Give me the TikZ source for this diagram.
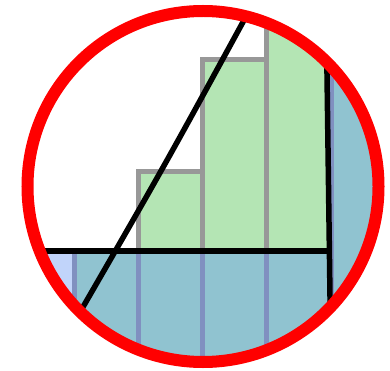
\documentclass[tikz,border=0pt]{standalone}
\definecolor{barGreen}{RGB}{180,229,180}
\definecolor{barTeal}{RGB}{144,195,208}
\definecolor{barLav}{RGB}{193,212,250}
\definecolor{edgeGray}{RGB}{152,152,152}
\definecolor{edgeBlue}{RGB}{128,144,192}
\definecolor{ringRed}{RGB}{255,0,0}
\tikzset{
  upperbar/.style={fill=barGreen, draw=edgeGray, line width=5pt},
  lowerbar/.style={fill=barTeal, draw=edgeBlue, line width=5pt},
  lowerbarlight/.style={fill=barLav, draw=edgeBlue, line width=5pt},
  blackline/.style={draw=black, line width=5.5pt},
  ring/.style={draw=ringRed, line width=12pt},
}
\begin{document}
\begin{tikzpicture}[x=1pt,y=-1pt]
\useasboundingbox (0,0) rectangle (390,371);
\coordinate (c) at (203,186.5);
\begin{scope}
  \clip (c) circle[radius=171pt];
  % upper (green) bars
  \path[upperbar] (138.5,171.5) rectangle (202.5,420);
  \path[upperbar] (202.5,60) rectangle (266,420);
  \path[upperbar] (266,-20) rectangle (330,420);
  \path[upperbar] (331,94) rectangle (450,420);
  % lower (blue) bars
  \path[lowerbarlight] (-50,251) rectangle (74,420);
  \path[lowerbar] (74,251) rectangle (138.5,420);
  \path[lowerbar] (138.5,251) rectangle (202.5,420);
  \path[lowerbar] (202.5,251) rectangle (266,420);
  \path[lowerbar] (266,251) rectangle (331,420);
  \path[lowerbar] (331,-50) rectangle (450,420);
  % black lines
  \coordinate (hL) at (0,251);
  \coordinate (hR) at (329,251);
  \coordinate (vT) at (326,0);
  \coordinate (vB) at (331,371);
  \coordinate (fA) at (69.7,330);
  \coordinate (fC) at (165,165);
  \coordinate (fB) at (255,0);
  \draw[blackline] (hL) -- (hR);
  \draw[blackline] (vT) -- (vB);
  \draw[blackline] (fA) .. controls (fC) .. (fB);
\end{scope}
\draw[ring] (c) circle[radius=175.5pt];
\end{tikzpicture}
\end{document}
